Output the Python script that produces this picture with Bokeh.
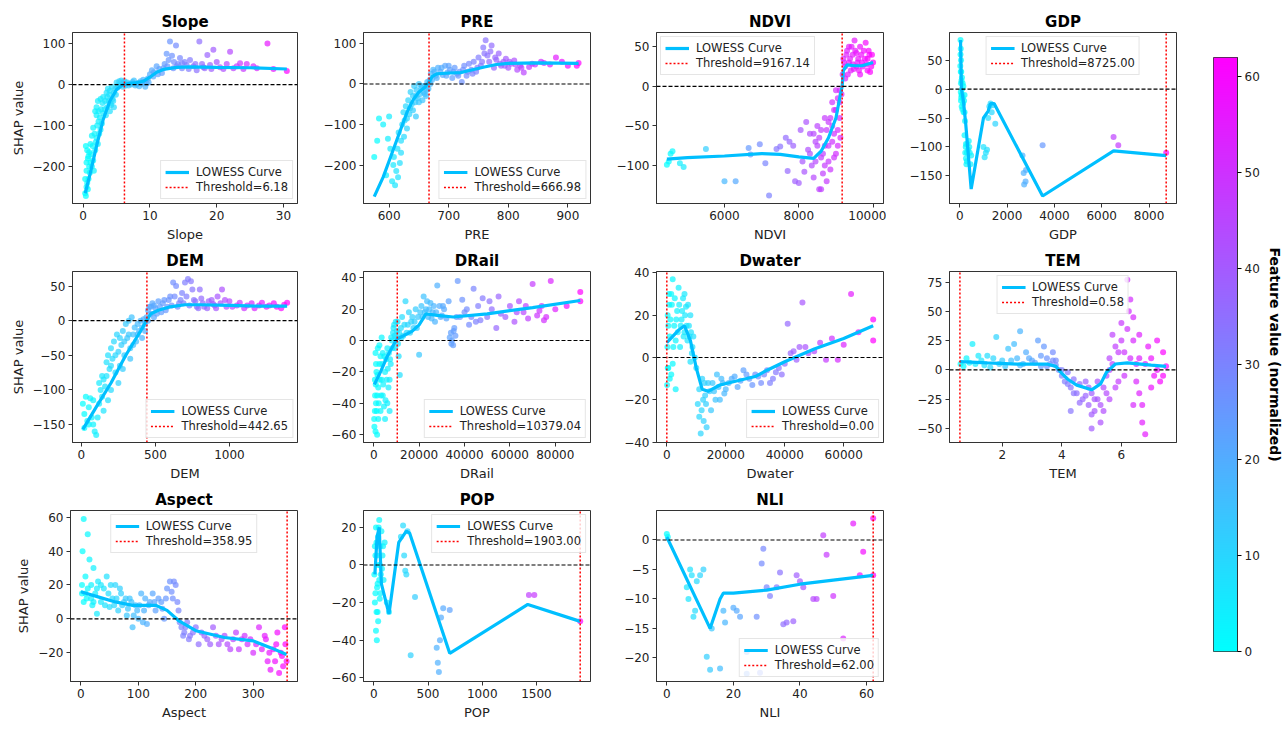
import numpy as np
from bokeh.plotting import figure
from bokeh.layouts import row, column, Spacer
from bokeh.models import (Span, Legend, LegendItem, FixedTicker, CustomJSTickFormatter,
                          Range1d, LinearColorMapper)
from bokeh.transform import linear_cmap
from bokeh.embed import file_html
from bokeh.resources import INLINE

FONT = "DejaVu Sans"

# ---------------- data ----------------
names = ["Slope", "PRE", "NDVI", "GDP", "DEM", "DRail", "Dwater", "TEM", "Aspect", "POP", "NLI"]
thresholds = [6.18, 666.98, 9167.14, 8725.00, 442.65, 10379.04, 0.00, 0.58, 358.95, 1903.00, 62.00]

slope_pts = [(0.3,-265),(0.5,-250),(0.4,-272),(0.6,-240),(0.8,-230),(0.5,-210),(0.7,-180),(0.9,-200),(1.0,-215),
             (0.4,-150),(0.6,-160),(0.8,-175),(1.1,-190),(1.3,-200),(1.5,-185),(1.6,-210),(1.2,-170),(1.4,-150),
             (1.8,-160),(1.9,-140),(2.0,-130),(2.2,-145),(2.4,-120),(2.1,-100),(2.3,-90),(2.5,-80),(2.6,-110),
             (2.8,-95),(3.0,-70),(3.2,-60),(2.7,-60),(2.9,-45),(1.8,-65),(2.0,-55),(2.2,-40),(3.4,-75),(3.6,-55),
             (3.8,-40),(4.0,-65),(4.2,-50),(4.4,-35),(4.6,-55),(3.5,-20),(3.7,-10),(4.0,-15),(4.3,-5),(4.6,-20),
             (4.8,-10),(5.0,5),(5.2,-2),(5.4,8),(5.7,10),(6.0,3),(6.3,-3),(6.6,5),(7.0,2),(7.4,6),(7.8,-2),(8.2,4),
             (8.6,8),(9.0,12),(9.3,-5),(9.5,3),(9.7,15),(10.0,25),(10.3,35),(10.6,30),(11.0,45),(11.4,38),(11.8,28),
             (12.2,50),(12.5,75),(12.8,60),(13.0,105),(13.3,70),(13.6,55),(13.9,95),(14.2,50),(14.5,65),(14.8,40),
             (15.2,55),(15.5,48),(16.0,60),(16.5,45),(17.0,35),(17.4,105),(17.8,50),(18.2,40),(18.6,72),(19.0,48),
             (19.5,85),(20.0,55),(20.5,42),(21.0,38),(22.0,80),(22.5,40),(23.0,45),(24.0,38),(24.5,50),(25.5,45),
             (27.6,100),(30.5,33),
             (0.3,-230),(0.5,-190),(0.7,-255),(0.9,-165),(1.1,-145),(1.3,-125),(1.5,-105),(1.7,-120),(2.0,-75),
             (2.3,-65),(2.6,-35),(3.0,-30),(3.3,-40),(3.6,-30),(3.9,-25),(4.1,-45),(4.5,-40),(4.9,-25),(5.1,-8),
             (5.5,0),(5.9,-5),(6.2,8),(6.8,-2),(7.2,0),(7.6,10),(8.0,0),(8.4,-4),(8.8,2),(9.2,6),(9.8,5),(10.5,20),
             (11.2,25),(12.0,40),(12.6,45),(13.5,40),(14.0,45),(14.8,52),(15.8,38),(16.8,50),(18.0,42),(19.2,38),
             (21.5,50),(23.5,52),(26.0,40),(28.5,38)]
slope_curve = [(0.3,-265),(1,-220),(2,-150),(3,-85),(4,-40),(5,-12),(6,0),(7,3),(8,5),(9,8),(10,18),(11,30),
               (12,37),(14,42),(16,43),(20,42),(25,41),(30.5,38)]

pre_pts = [(575,-180),(580,-140),(583,-85),(590,-100),(595,-225),(598,-135),(600,-80),(602,-160),(605,-240),
           (607,-200),(610,-250),(612,-215),(614,-160),(616,-120),(618,-195),(620,-140),(622,-100),(624,-70),
           (626,-90),(628,-55),(630,-110),(632,-40),(634,-75),(636,-20),(638,-50),(640,-30),(642,-5),(644,-45),
           (646,-15),(648,-35),(650,0),(652,-25),(654,-10),(656,-40),(658,-20),(660,-5),(662,-30),(664,5),
           (666,-12),(668,10),(670,25),(674,35),(678,20),(682,40),(686,30),(690,22),(694,45),(698,28),(702,35),
           (706,15),(710,40),(714,25),(718,30),(722,5),(726,45),(730,20),(734,50),(738,35),(742,55),(746,30),
           (750,65),(754,45),(758,90),(762,108),(765,70),(768,55),(772,95),(776,40),(780,60),(784,75),(788,45),
           (792,55),(796,62),(800,40),(805,50),(810,58),(815,35),(820,45),(826,28),(840,50),(855,55),(870,48),
           (880,65),(890,55),(900,45),(915,45),(918,52),(608,-180),(615,-230),(625,-130),(635,-60),(645,-80),
           (620,-170),(630,-85),(640,-65),(645,-30),(650,-45),(655,-5),(660,-25),(663,-15),(669,0),(672,10),
           (676,30),(680,15),(688,40),(696,20),(700,45),(708,30),(716,20),(724,35),(732,30),(740,25),(748,40),
           (756,55),(760,75),(770,80),(778,65),(786,50),(794,45),(802,55),(812,48),(822,40),(835,42),(845,48),
           (860,52)]
pre_curve = [(575,-278),(590,-230),(600,-190),(610,-150),(620,-110),(630,-70),(640,-40),(650,-20),(660,-8),
             (667,5),(672,18),(680,25),(700,27),(720,28),(740,35),(760,42),(780,48),(800,51),(850,52),(918,51)]

ndvi_pts = [(4450,-99),(4500,-95),(4550,-85),(4600,-82),(4800,-97),(4900,-102),(5500,-79),(6000,-120),(6300,-120),
            (6650,-78),(6700,-86),(6950,-73),(7100,-97),(7200,-138),(7400,-79),(7500,-76),(7650,-65),(7750,-70),
            (7700,-107),(7850,-75),(7900,-120),(8000,-122),(8050,-55),(8100,-95),(8150,-108),(8200,-45),(8250,-80),
            (8300,-60),(8350,-100),(8400,-115),(8450,-70),(8500,-50),(8550,-130),(8600,-90),(8650,-110),(8700,-75),
            (8750,-55),(8800,-95),(8850,-40),(8900,-70),(8950,-30),(9000,-85),(9050,-55),(9100,-20),(9120,-65),
            (9150,-10),(9180,15),(9200,35),(9250,25),(9300,45),(9350,30),(9400,20),(9450,40),(9500,58),(9550,25),
            (9600,35),(9650,15),(9700,30),(9750,45),(9800,55),(9850,20),(9900,40),(9950,25),(10000,30),(8600,-130),
            (8700,-100),(8800,-45),(8900,-20),(9000,-5),(9100,-40),(9250,10),(9350,50),(9450,28),(9550,42),
            (9650,50),(9850,35),(8450,-95),(8550,-65),(8650,-85),(8950,-60),
            (9220,30),(9280,40),(9320,15),(9380,35),(9420,50),(9480,22),(9520,45),(9580,30),(9620,20),(9680,40),
            (9720,25),(9780,35),(9820,28),(9880,45),(9920,18),(9970,40),(8300,-85),(8400,-60),(8500,-75),
            (8600,-55),(8700,-40),(8800,-75),(8900,-50),(9000,-30),(9050,-75),(9100,-5),(8750,-120),(8850,-105),
            (8950,-90),(9050,-15)]
ndvi_curve = [(4450,-92),(5000,-90),(6000,-88),(7000,-85),(7500,-86),(8000,-89),(8400,-91),(8600,-82),(8800,-65),
              (9000,-40),(9100,-15),(9167,0),(9200,20),(9300,27),(9500,26),(9700,26),(10000,30)]

gdp_pts = [(30,85),(40,70),(50,50),(60,30),(50,10),(70,-10),(80,-30),(60,-15),(100,0),(120,10),(150,5),(180,-20),
           (200,-40),(220,-55),(250,-100),(260,-120),(280,-130),(300,-110),(320,-95),(350,-105),(380,-90),(420,-110),
           (450,-130),(480,-115),(1000,-100),(1050,-118),(1100,-110),(1150,-105),(1200,-50),(1250,-30),(1300,-25),
           (1350,-40),(1400,-28),(1500,-60),(2650,-115),(2700,-145),(2720,-165),(2780,-160),(2800,-140),(3500,-97),
           (6500,-83),(6700,-97),(8725,-110),(20,40),(40,-5),(90,20),(110,-35),(140,-25),(200,-10),
           (30,60),(40,30),(50,-20),(70,15),(90,-10),(130,-15),(160,-40),(200,-80),(230,-110),(260,-95),
           (300,-125),(400,-100)]
gdp_curve = [(30,85),(50,40),(70,0),(150,-20),(250,-60),(480,-173),(1000,-50),(1200,-38),(1300,-25),(1450,-25),
             (3500,-185),(6500,-107),(8725,-115)]

dem_pts = [(10,-120),(20,-155),(30,-110),(40,-145),(50,-125),(60,-112),(70,-140),(80,-150),(90,-160),(100,-165),
           (110,-140),(120,-120),(130,-100),(140,-80),(150,-85),(160,-95),(170,-60),(180,-50),(190,-70),(200,-40),
           (210,-55),(220,-30),(230,-75),(240,-20),(250,-45),(260,-65),(270,-35),(280,-15),(290,-30),(300,-5),
           (310,-25),(320,0),(330,-40),(340,5),(350,-20),(360,-10),(370,-30),(380,-5),(390,-15),(400,0),(410,-10),
           (420,2),(430,-5),(440,5),(450,15),(460,20),(470,10),(480,25),(490,5),(500,18),(520,28),(540,12),(560,30),
           (580,20),(600,35),(620,55),(640,50),(660,25),(680,40),(700,55),(720,60),(740,57),(760,30),(780,20),
           (800,45),(820,25),(850,18),(880,30),(900,22),(920,35),(950,45),(980,20),(1000,28),(1050,22),(1100,18),
           (1150,25),(1200,22),(1250,20),(1300,25),(1350,18),(1390,26),(250,-90),(200,-100),(150,-130),(280,-70),
           (330,-55),(180,-115),
           (20,-135),(50,-150),(80,-115),(120,-90),(140,-110),(170,-80),(200,-65),(230,-50),(260,-25),(290,-50),
           (320,-20),(350,-35),(380,-20),(410,-25),(430,-15),(450,0),(470,20),(490,22),(510,10),(530,20),(550,25),
           (570,15),(590,30),(610,22),(630,35),(650,20),(670,30),(690,25),(710,35),(730,22),(750,45),(770,28),
           (790,18),(810,32),(830,20),(860,28),(890,24),(910,18),(940,25),(970,30),(1020,20),(1070,26),(1120,22),
           (1170,18),(1220,26),(1270,22),(1320,20),(1370,23)]
dem_curve = [(10,-157),(100,-125),(200,-90),(300,-50),(400,-15),(440,0),(470,10),(520,15),(600,20),(700,23),
             (800,23),(1000,22),(1200,21),(1390,21)]

drail_pts = [(300,-55),(800,-58),(1500,-60),(500,-45),(1000,-40),(1500,-35),(2000,-30),(500,-25),(1200,-20),
             (2500,-15),(3000,-10),(800,-8),(1800,-5),(3500,-25),(4000,-35),(4500,-42),(5000,-20),(5500,-12),
             (6000,-5),(6500,-30),(7000,-45),(7500,-15),(8000,0),(8500,5),(9000,10),(9500,-5),(10000,2),(10500,12),
             (11000,-10),(11500,-22),(12000,8),(12500,15),(13000,3),(14000,25),(15000,10),(16000,5),(17000,15),
             (18000,12),(19000,8),(20000,-9),(20500,18),(21000,22),(22000,28),(23000,20),(24000,15),(25000,24),
             (26000,18),(27000,12),(28000,35),(29000,22),(30000,16),(31000,20),(32000,14),(33000,25),(34000,5),
             (34500,0),(35000,-3),(35500,8),(36000,3),(37000,38),(38000,15),(39000,26),(40000,18),(42000,10),
             (44000,33),(45000,12),(46000,22),(48000,27),(50000,15),(52000,20),(54000,8),(55000,28),(58000,15),
             (60000,22),(62000,12),(64000,25),(66000,18),(68000,14),(70000,36),(72000,16),(74000,22),(75000,13),
             (78000,38),(80000,20),(85000,22),(91000,31),(91000,25),(2000,-50),(3000,-45),(4000,-8),(5000,-50),
             (6000,-40),(7000,-25),(1000,-15),(2500,-3),(3500,2),
             (200,-50),(600,-35),(900,-28),(1300,-45),(1700,-22),(2200,-40),(2700,-25),(3200,-35),(3700,-15),
             (4200,-28),(4700,-10),(5200,-38),(5700,-25),(6200,-18),(6700,-8),(7200,-12),(7700,2),(8200,-5),
             (8700,8),(9200,3),(9700,12),(10200,6),(10700,-2),(11200,5),(12200,2),(13500,10),(14500,5),(15500,18),
             (16500,12),(17500,8),(18500,20),(19500,15),(21500,15),(22500,18),(23500,25),(24500,20),(25500,14),
             (26500,22),(27500,18),(29500,15),(30500,22),(33500,2),(34200,-2),(35200,6),(36500,15),(41000,20),
             (43000,15),(47000,13),(51000,25),(56000,17),(63000,18),(67000,22),(73000,19),(76000,15)]
drail_curve = [(300,-28),(3000,-20),(6000,-10),(9000,-2),(10379,1),(13000,3),(17000,6),(20000,10),(23000,17),
               (28000,16),(35000,15),(50000,17),(70000,21),(91000,25.5)]

dwater_pts = [(100,-13),(200,5),(300,20),(500,-5),(800,25),(1000,10),(1500,30),(2000,37),(2500,15),(3000,-15),
              (3500,22),(4000,33),(4500,5),(5000,18),(5500,28),(6000,12),(6500,24),(7000,8),(7500,15),(8000,20),
              (8500,2),(9000,10),(9500,0),(10000,-5),(10500,-22),(11000,-28),(11500,-36),(12000,-10),(12500,-30),
              (13000,-18),(13500,-33),(14000,-12),(15000,-25),(16000,-16),(17000,-8),(18000,-20),(19000,-12),
              (20000,-15),(22000,-10),(24000,-14),(26000,-6),(28000,-10),(30000,-8),(32000,-12),(34000,-6),
              (36000,-10),(38000,-5),(40000,-3),(41000,16),(42000,2),(44000,-1),(46000,26),(47000,5),(50000,3),
              (52000,7),(54000,-1),(56000,9),(58000,-1),(60000,6),(62500,30),(65000,12),(70000,18),(70000,8),
              (1000,-10),(2000,-3),(3000,8),(6000,30),(8000,-2),(1500,-8),(500,15),
              (300,-5),(700,30),(1200,18),(1700,25),(2200,5),(2700,28),(3200,18),(3700,12),(4200,25),(4700,15),
              (5200,22),(5700,10),(6200,20),(6700,15),(7200,25),(7700,10),(8200,12),(8700,5),(11000,-15),
              (11800,-25),(12300,-20),(12800,-12),(13300,-22),(14500,-16),(15500,-12),(16500,-20),(17500,-14),
              (18500,-10),(19500,-17),(21000,-12),(23000,-9),(25000,-11),(27000,-8),(29000,-13),(31000,-9),
              (33000,-8),(35000,-12),(37000,-7),(39000,-8),(43000,3),(45000,5),(48000,2)]
dwater_curve = [(0,7),(2000,10),(4000,13),(6000,15),(8000,8),(10000,-5),(12000,-15),(14000,-16),(18000,-13),
                (24000,-11),(30000,-9),(34000,-6),(40000,-2),(50000,4),(60000,9),(70000,15)]

tem_pts = [(0.6,5),(0.8,10),(1.0,22),(1.1,5),(1.3,8),(1.5,12),(1.6,2),(1.8,28),(2.0,8),(2.1,3),(2.2,18),(2.4,22),
           (2.5,10),(2.6,33),(2.7,5),(2.8,15),(3.0,8),(3.2,25),(3.3,3),(3.4,20),(3.5,10),(3.6,5),(3.7,15),(3.8,8),
           (3.9,0),(4.0,-5),(4.1,-10),(4.2,-2),(4.3,-15),(4.4,-8),(4.5,-20),(4.6,-12),(4.7,-25),(4.8,-10),(4.9,-30),
           (5.0,-20),(5.1,-35),(5.2,-25),(5.3,-45),(5.4,-15),(5.5,-5),(5.6,10),(5.7,30),(5.8,20),(5.9,-10),(6.0,40),
           (6.1,15),(6.2,77),(6.25,50),(6.3,60),(6.4,25),(6.5,5),(6.6,-20),(6.7,-45),(6.8,-55),(6.9,20),(7.0,10),
           (7.1,-5),(7.2,25),(7.3,-10),(7.4,15),(7.5,3),(5.0,-50),(4.3,-35),(6.6,30),(6.4,-30),(5.6,-25),
           (0.7,3),(0.9,6),(1.2,12),(1.4,4),(1.7,10),(1.9,5),(2.3,8),(2.6,4),(2.9,10),(3.1,6),(3.3,12),(3.5,3),
           (3.7,8),(3.8,4),(4.0,0),(4.2,-12),(4.4,-20),(4.6,-28),(4.8,-22),(4.9,-15),(5.0,-38),(5.1,-25),
           (5.2,-10),(5.3,-30),(5.4,-35),(5.5,-20),(5.6,0),(5.7,5),(5.8,-15),(5.9,15),(6.0,25),(6.1,-5),(6.2,35),
           (6.3,10),(6.4,45),(6.5,-10),(6.6,10),(6.7,-30),(6.8,5),(7.0,-15),(7.2,0),(7.4,-5)]
tem_curve = [(0.58,7),(1.5,6),(2.5,5),(3.5,5),(3.8,3),(4.0,-3),(4.2,-8),(4.5,-13),(5.0,-17),(5.3,-12),(5.5,-2),
             (5.8,5),(6.2,6),(7.0,4),(7.5,3)]

aspect_pts = [(2,15),(3,40),(5,59),(8,25),(10,12),(12,50),(15,35),(18,20),(20,8),(22,30),(25,15),(28,3),(30,22),
              (35,10),(40,18),(45,25),(50,7),(55,12),(60,20),(65,5),(70,15),(75,10),(80,2),(85,12),(90,-5),(95,8),
              (100,0),(105,15),(110,5),(115,-3),(120,10),(125,15),(130,5),(140,10),(145,0),(150,18),(155,22),
              (160,12),(165,20),(170,5),(175,-5),(180,-8),(185,-2),(190,-10),(200,-5),(205,-15),(210,-8),(220,-12),
              (230,-5),(240,-15),(250,-10),(260,-18),(270,-8),(280,-12),(290,-15),(300,-20),(310,-5),(320,-10),
              (325,-25),(330,-30),(335,-18),(340,-15),(345,-32),(350,-22),(355,-5),(358,-25),
              (2,20),(5,10),(8,15),(12,18),(18,12),(22,10),(28,18),(35,20),(42,8),(48,15),(52,20),(58,8),(62,12),
              (68,18),(72,8),(78,12),(82,6),(88,10),(92,2),(98,5),(102,8),(108,-2),(112,12),(118,8),(128,10),
              (135,12),(142,6),(148,12),(158,16),(162,22),(168,10),(172,-2),(178,-10),(182,-5),(188,-12),(195,-8),
              (215,-10),(225,-15),(235,-10),(245,-12),(255,-15),(265,-12),(275,-18),(285,-10),(295,-12),(305,-15),
              (315,-18),(322,-12),(328,-20),(338,-25),(342,-8),(348,-20),(352,-28),(356,-15)]
aspect_curve = [(0,16),(30,13),(60,10),(90,8),(130,8),(150,5),(170,-1),(200,-7),(250,-11),(300,-13),(330,-17),
                (358,-21)]

pop_pts = [(5,-5),(10,10),(15,-15),(20,20),(25,-25),(28,-40),(30,5),(35,-10),(40,15),(45,0),(50,24),(55,-18),
           (60,10),(65,-5),(70,18),(80,5),(90,-8),(100,12),(120,-20),(140,-25),(250,15),(270,21),(280,5),(290,-3),
           (300,-5),(310,18),(340,-48),(380,-17),(580,-44),(590,-52),(600,-57),(610,-40),(620,-28),(640,-23),
           (700,-24),(1430,-16),(1480,-16),(1903,-30),(40,-30),(20,-35),
           (10,-20),(15,5),(25,12),(35,-25),(45,20),(55,0),(60,-15),(75,-2),(85,10),(30,-12),(50,-8)]
pop_curve = [(10,-5),(30,15),(50,20),(70,-10),(140,-26),(230,12),(300,18),(330,17),(700,-47),(1420,-21),(1903,-30)]

nli_pts = [(0,1),(0.3,0.5),(6,-8),(6.5,-10),(7,-5),(7.5,-6),(8,-13),(8.5,-12),(9,-7),(10,-6),(11,-5),(12,-19.8),
           (13,-22),(13.5,-15),(16,-21.8),(17,-12),(17.5,-14),(20,-11.5),(21,-12),(22,-13),(24,-22.7),(24,-19),
           (27,-13),(28,-22.5),(28.5,-4),(29,-1.5),(30,-8),(31,-9.5),(33,-8),(34,-5.5),(35,-14.3),(36,-14),
           (38,-13.8),(39,-6),(40,-7),(41,-8),(44,-10),(45,-10),(47,0.8),(48,-2.5),(50,-9.5),(53,-16.7),(56,2.8),
           (58,-6),(59,-2),(62,3.7),(62,-6)]
nli_curve = [(0,0.5),(13,-15),(16,-10),(17,-9),(20,-9),(30,-8.5),(40,-7.5),(50,-6.8),(62,-6)]

all_pts = [slope_pts, pre_pts, ndvi_pts, gdp_pts, dem_pts, drail_pts, dwater_pts, tem_pts, aspect_pts, pop_pts, nli_pts]
all_curves = [slope_curve, pre_curve, ndvi_curve, gdp_curve, dem_curve, drail_curve, dwater_curve, tem_curve,
              aspect_curve, pop_curve, nli_curve]

# axis settings
x_ranges = [(-1.6, 32.1), (557, 938), (4170, 10280), (-436, 9161), (-60, 1460), (-4500, 95500),
            (-3500, 73500), (0.23, 7.85), (-18, 377), (-95, 1998), (-3.1, 65.1)]
y_ranges = [(-290, 127), (-295, 127), (-148, 68), (-198, 98), (-176, 71), (-65, 44),
            (-40.2, 40.7), (-62, 84), (-37, 64), (-62, 29), (-24, 5)]
x_ticks = [[0, 10, 20, 30], [600, 700, 800, 900], [6000, 8000, 10000], [0, 2000, 4000, 6000, 8000],
           [0, 500, 1000], [0, 20000, 40000, 60000, 80000], [0, 20000, 40000, 60000], [2, 4, 6],
           [0, 100, 200, 300], [0, 500, 1000, 1500], [0, 20, 40, 60]]
y_ticks = [[-200, -100, 0, 100], [-200, -100, 0, 100], [-100, -50, 0, 50], [-150, -100, -50, 0, 50],
           [-150, -100, -50, 0, 50], [-60, -40, -20, 0, 20, 40], [-40, -20, 0, 20, 40],
           [-50, -25, 0, 25, 50, 75], [-20, 0, 20, 40, 60], [-60, -40, -20, 0, 20], [-20, -15, -10, -5, 0]]
legend_locs = ["bottom_right", "bottom_right", "top_left", "top_center", "bottom_right", "bottom_right",
               "bottom_right", "top_center", "top_center", "top_right", "bottom_right"]

cb_low, cb_high = 0, 62
cb_ticks = [0, 10, 20, 30, 40, 50, 60]

# ---------------- styling ----------------
cool = ["#%02x%02x%02x" % (int(round(255 * t)), int(round(255 * (1 - t))), 255)
        for t in np.linspace(0, 1, 256)]
LOWESS_COLOR = "#00BFFF"

fmt_code = """
var s = Math.abs(tick).toString();
return (tick < 0 ? '\u2212' : '') + s;
"""

def style_axes(p):
    for ax in (p.xaxis[0], p.yaxis[0]):
        ax.major_tick_in = 0
        ax.major_tick_out = 4
        ax.minor_tick_line_color = None
        ax.major_label_text_font = FONT
        ax.major_label_text_font_size = "12px"
        ax.major_label_text_color = "#222222"
        ax.axis_label_text_font = FONT
        ax.axis_label_text_font_size = "13px"
        ax.axis_label_text_font_style = "normal"
        ax.axis_label_text_color = "#222222"
        ax.axis_line_color = "#333333"
        ax.major_tick_line_color = "#333333"
        ax.major_label_standoff = 3
        ax.axis_label_standoff = 4
        ax.formatter = CustomJSTickFormatter(code=fmt_code)
    p.xgrid.visible = False
    p.ygrid.visible = False
    p.outline_line_color = "#333333"
    p.outline_line_alpha = 1.0
    p.outline_line_width = 1


panels = []
for i, name in enumerate(names):
    pts = all_pts[i]
    xs = [a for a, b in pts]
    ys = [b for a, b in pts]
    cx = [a for a, b in all_curves[i]]
    cy = [b for a, b in all_curves[i]]
    p = figure(width=293, height=239, x_range=Range1d(*x_ranges[i]), y_range=Range1d(*y_ranges[i]),
               output_backend="svg", toolbar_location=None,
               min_border_left=63, min_border_right=3, min_border_top=24, min_border_bottom=44,
               title=name, background_fill_color="white", border_fill_color="white")
    p.title.align = "center"
    p.title.text_font = FONT
    p.title.text_font_size = "15px"
    p.title.text_font_style = "bold"
    p.title.text_color = "black"
    p.title.standoff = 4
    style_axes(p)
    p.xaxis.ticker = FixedTicker(ticks=x_ticks[i])
    p.yaxis.ticker = FixedTicker(ticks=y_ticks[i])
    p.xaxis.axis_label = name
    if i % 4 == 0:
        p.yaxis.axis_label = "SHAP value"

    p.scatter(xs, ys, size=6, line_color=None, fill_alpha=0.7,
              fill_color=linear_cmap("x", cool, min(xs), max(xs)))
    curve = p.line(cx, cy, line_color=LOWESS_COLOR, line_width=3.2)

    p.add_layout(Span(location=0, dimension="width", line_color="black", line_dash="4 2", line_width=1.1))
    thr = p.ray(x=[thresholds[i]], y=[y_ranges[i][0]], length=0, angle=np.pi / 2,
                line_color="red", line_dash="2 2", line_width=1.5)

    leg = Legend(items=[LegendItem(label="LOWESS Curve", renderers=[curve]),
                        LegendItem(label="Threshold=%.2f" % thresholds[i], renderers=[thr])],
                 location=legend_locs[i])
    leg.label_text_font = FONT
    leg.label_text_font_size = "11.5px"
    leg.label_text_color = "#222222"
    leg.background_fill_alpha = 0.8
    leg.border_line_color = "#cccccc"
    leg.border_line_width = 1
    leg.glyph_width = 24
    leg.glyph_height = 14
    leg.label_height = 14
    leg.label_standoff = 7
    leg.spacing = 1
    leg.padding = 4
    leg.margin = 4
    p.add_layout(leg)
    panels.append(p)

# ---------------- colourbar ----------------
cb = figure(width=106, height=717, x_range=Range1d(0, 1), y_range=Range1d(cb_low, cb_high),
            y_axis_location="right", output_backend="svg", toolbar_location=None,
            min_border_left=34, min_border_right=42, min_border_top=49, min_border_bottom=74,
            background_fill_color="white", border_fill_color="white")
grad = np.linspace(cb_low, cb_high, 256).reshape(256, 1)
cb.image(image=[grad], x=0, y=cb_low, dw=1, dh=cb_high - cb_low,
         color_mapper=LinearColorMapper(palette=cool, low=cb_low, high=cb_high))
cb.xaxis.visible = False
cb.xgrid.visible = False
cb.ygrid.visible = False
cb.outline_line_color = "#333333"
ya = cb.yaxis[0]
ya.ticker = FixedTicker(ticks=cb_ticks)
ya.major_tick_in = 0
ya.major_tick_out = 4
ya.minor_tick_line_color = None
ya.major_label_text_font = FONT
ya.major_label_text_font_size = "12px"
ya.major_label_text_color = "#222222"
ya.major_label_standoff = 3
ya.axis_label = "Feature value (normalized)"
ya.axis_label_text_font = FONT
ya.axis_label_text_font_size = "14px"
ya.axis_label_text_font_style = "bold"
ya.axis_label_text_color = "black"
ya.axis_label_standoff = 4
ya.axis_line_color = "#333333"

grid = column(row(*panels[0:4]), row(*panels[4:8]), row(*panels[8:11]))
layout = column(Spacer(height=8), row(Spacer(width=7), grid, cb))

open("out.html", "w").write(file_html(layout, INLINE))
